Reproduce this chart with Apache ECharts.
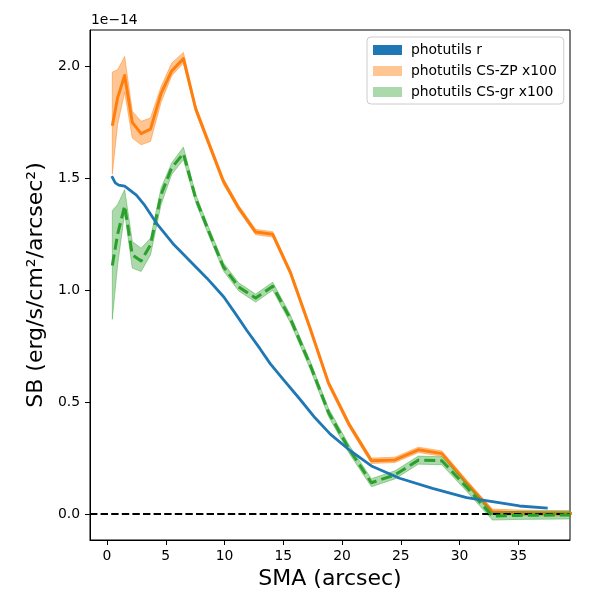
<!DOCTYPE html>
<html>
<head>
<meta charset="utf-8">
<script src="https://cdn.jsdelivr.net/npm/echarts@6/dist/echarts.min.js"></script>
<style>html,body{margin:0;padding:0;background:#fff}#c{width:600px;height:600px}</style>
</head>
<body>
<div id="c"></div>
<script>
// ---- data (units of 1e-14 erg/s/cm^2/arcsec^2) ----
const smaR = [0.4, 0.7, 1.0, 1.5, 2.0, 2.5, 3.16, 4.3, 5.7, 7.1, 8.5, 9.94, 11.0, 11.9, 13.0, 13.9, 15.1, 16.4, 17.7, 19.0, 20.7, 22.5, 24.9, 27.7, 30.6, 32.8, 35.1, 37.5];
const sbR  = [1.51, 1.48, 1.47, 1.465, 1.445, 1.425, 1.383, 1.293, 1.203, 1.129, 1.054, 0.97, 0.89, 0.82, 0.74, 0.671, 0.595, 0.514, 0.43, 0.357, 0.283, 0.215, 0.16, 0.115, 0.073, 0.055, 0.036, 0.026];

const smaCS = [0.45, 0.9, 1.5, 2.15, 2.9, 3.7, 4.6, 5.5, 6.5, 7.55, 8.6, 9.9, 11.2, 12.65, 14.1, 15.6, 17.25, 18.85, 20.6, 22.5, 24.5, 26.5, 28.5, 30.6, 32.8, 35.0, 37.2, 39.4, 41.6];

const sbZP   = [1.735, 1.86, 1.96, 1.75, 1.70, 1.72, 1.88, 1.98, 2.035, 1.81, 1.665, 1.487, 1.368, 1.26, 1.25, 1.08, 0.835, 0.585, 0.40, 0.238, 0.242, 0.287, 0.27, 0.14, 0.01, 0.006, 0.004, 0.003, 0.002];
const sbZPhi = [1.975, 1.985, 2.045, 1.80, 1.755, 1.77, 1.91, 2.015, 2.063, 1.825, 1.68, 1.50, 1.38, 1.272, 1.262, 1.092, 0.847, 0.597, 0.412, 0.25, 0.254, 0.299, 0.282, 0.152, 0.022, 0.018, 0.016, 0.015, 0.014];
const sbZPlo = [1.52, 1.74, 1.885, 1.68, 1.65, 1.665, 1.84, 1.958, 2.015, 1.795, 1.65, 1.474, 1.356, 1.248, 1.238, 1.068, 0.823, 0.573, 0.388, 0.226, 0.23, 0.275, 0.258, 0.128, -0.002, -0.006, -0.008, -0.009, -0.01];

const sbGR   = [1.111, 1.25, 1.377, 1.158, 1.131, 1.203, 1.427, 1.547, 1.611, 1.41, 1.27, 1.105, 1.015, 0.965, 1.018, 0.873, 0.671, 0.454, 0.29, 0.14, 0.175, 0.241, 0.238, 0.12, -0.009, -0.006, -0.005, -0.004, -0.003];
const sbGRhi = [1.356, 1.383, 1.45, 1.218, 1.188, 1.233, 1.457, 1.569, 1.64, 1.428, 1.288, 1.123, 1.033, 0.983, 1.036, 0.891, 0.689, 0.472, 0.308, 0.158, 0.193, 0.259, 0.256, 0.138, 0.009, 0.012, 0.013, 0.014, 0.015];
const sbGRlo = [0.87, 1.113, 1.345, 1.099, 1.084, 1.158, 1.383, 1.517, 1.584, 1.392, 1.252, 1.087, 0.997, 0.947, 1.0, 0.855, 0.653, 0.436, 0.272, 0.122, 0.157, 0.223, 0.22, 0.102, -0.027, -0.024, -0.023, -0.022, -0.021];

const xTicks = [0, 5, 10, 15, 20, 25, 30, 35];
const yTicks = [0.0, 0.5, 1.0, 1.5, 2.0];

const names = ['photutils r', 'photutils CS-ZP x100', 'photutils CS-gr x100'];
// ---------------------------------------------------

const FONT = 'DejaVu Sans';
const pairs = (xs, ys) => xs.map((x, i) => [x, ys[i]]);

function band(xs, lo, hi, fill) {
  return function (params, api) {
    const pts = [];
    for (let i = 0; i < xs.length; i++) pts.push(api.coord([xs[i], hi[i]]));
    for (let i = xs.length - 1; i >= 0; i--) pts.push(api.coord([xs[i], lo[i]]));
    const cs = params.coordSys;
    return {
      type: 'polygon',
      shape: { points: pts },
      style: { fill: fill, stroke: fill, lineWidth: 1 },
      clipPath: { type: 'rect', shape: { x: cs.x, y: cs.y, width: cs.width, height: cs.height } }
    };
  };
}

const orangeFill = 'rgba(255,127,14,0.45)';
const greenFill = 'rgba(44,160,44,0.4)';

const chart = echarts.init(document.getElementById('c'), null, { renderer: 'canvas' });
chart.setOption({
  animation: false,
  backgroundColor: '#fff',
  textStyle: { fontFamily: FONT },
  grid: { left: 90, top: 30, width: 480, height: 510, show: true, borderColor: '#000', borderWidth: 1, backgroundColor: 'transparent' },
  graphic: [{
    type: 'text', left: 91, top: 13,
    style: { text: '1e\u221214', fontSize: 13.9, fontFamily: FONT, fill: '#000' }
  }],
  legend: {
    orient: 'vertical', left: 367, top: 37,
    itemWidth: 29, itemHeight: 10, itemGap: 7,
    padding: [6, 7, 5, 6],
    borderColor: '#cccccc', borderWidth: 1, borderRadius: 4,
    backgroundColor: 'rgba(255,255,255,0.8)',
    textStyle: { fontSize: 13.9, color: '#000', fontFamily: FONT, padding: [0, 0, 0, 4] },
    data: [
      { name: names[0], icon: 'rect', itemStyle: { color: '#1f77b4' } },
      { name: names[1], icon: 'rect', itemStyle: { color: 'rgba(255,127,14,0.45)' } },
      { name: names[2], icon: 'rect', itemStyle: { color: 'rgba(44,160,44,0.4)' } }
    ]
  },
  xAxis: {
    type: 'value', min: -1.45, max: 39.4,
    name: 'SMA (arcsec)', nameLocation: 'middle', nameGap: 27,
    nameTextStyle: { fontSize: 22, color: '#000', fontFamily: FONT },
    axisLine: { show: true, onZero: false, lineStyle: { color: '#000', width: 1 } },
    axisTick: { show: true, length: 5, lineStyle: { color: '#000' }, customValues: xTicks },
    axisLabel: { color: '#000', fontSize: 13.9, fontFamily: FONT, margin: 9, customValues: xTicks, formatter: v => String(v) },
    splitLine: { show: false }
  },
  yAxis: {
    type: 'value', min: -0.116, max: 2.163,
    name: 'SB (erg/s/cm\u00b2/arcsec\u00b2)', nameLocation: 'middle', nameGap: 41, nameRotate: 90,
    nameTextStyle: { fontSize: 22, color: '#000', fontFamily: FONT },
    axisLine: { show: true, onZero: false, lineStyle: { color: '#000', width: 1 } },
    axisTick: { show: true, length: 5, lineStyle: { color: '#000' }, customValues: yTicks },
    axisLabel: { color: '#000', fontSize: 13.9, fontFamily: FONT, margin: 10, customValues: yTicks, formatter: v => v.toFixed(1) },
    splitLine: { show: false }
  },
  series: [
    {
      name: names[1], type: 'custom', data: [[0, 0]],
      itemStyle: { color: orangeFill },
      renderItem: band(smaCS, sbZPlo, sbZPhi, orangeFill), silent: true, z: 2
    },
    {
      name: 'zp-line', type: 'line', data: pairs(smaCS, sbZP),
      showSymbol: false, symbol: 'none', clip: true, silent: true, z: 3,
      lineStyle: { color: '#ff7f0e', width: 3, join: 'round' }
    },
    {
      name: names[2], type: 'custom', data: [[0, 0]],
      itemStyle: { color: greenFill },
      renderItem: band(smaCS, sbGRlo, sbGRhi, greenFill), silent: true, z: 4
    },
    {
      name: 'gr-line', type: 'line', data: pairs(smaCS, sbGR),
      showSymbol: false, symbol: 'none', clip: true, silent: true, z: 5,
      lineStyle: { color: '#2ca02c', width: 3, type: [11, 5], join: 'round' }
    },
    {
      name: names[0], type: 'line', data: pairs(smaR, sbR),
      showSymbol: false, symbol: 'none', clip: true, silent: true, z: 6,
      itemStyle: { color: '#1f77b4' },
      lineStyle: { color: '#1f77b4', width: 2.8, join: 'round' },
      markLine: {
        silent: true, symbol: 'none', animation: false,
        label: { show: false },
        lineStyle: { color: '#000', width: 2, type: [7.4, 3.2] },
        data: [{ yAxis: 0 }]
      }
    }
  ]
});
</script>
</body>
</html>
